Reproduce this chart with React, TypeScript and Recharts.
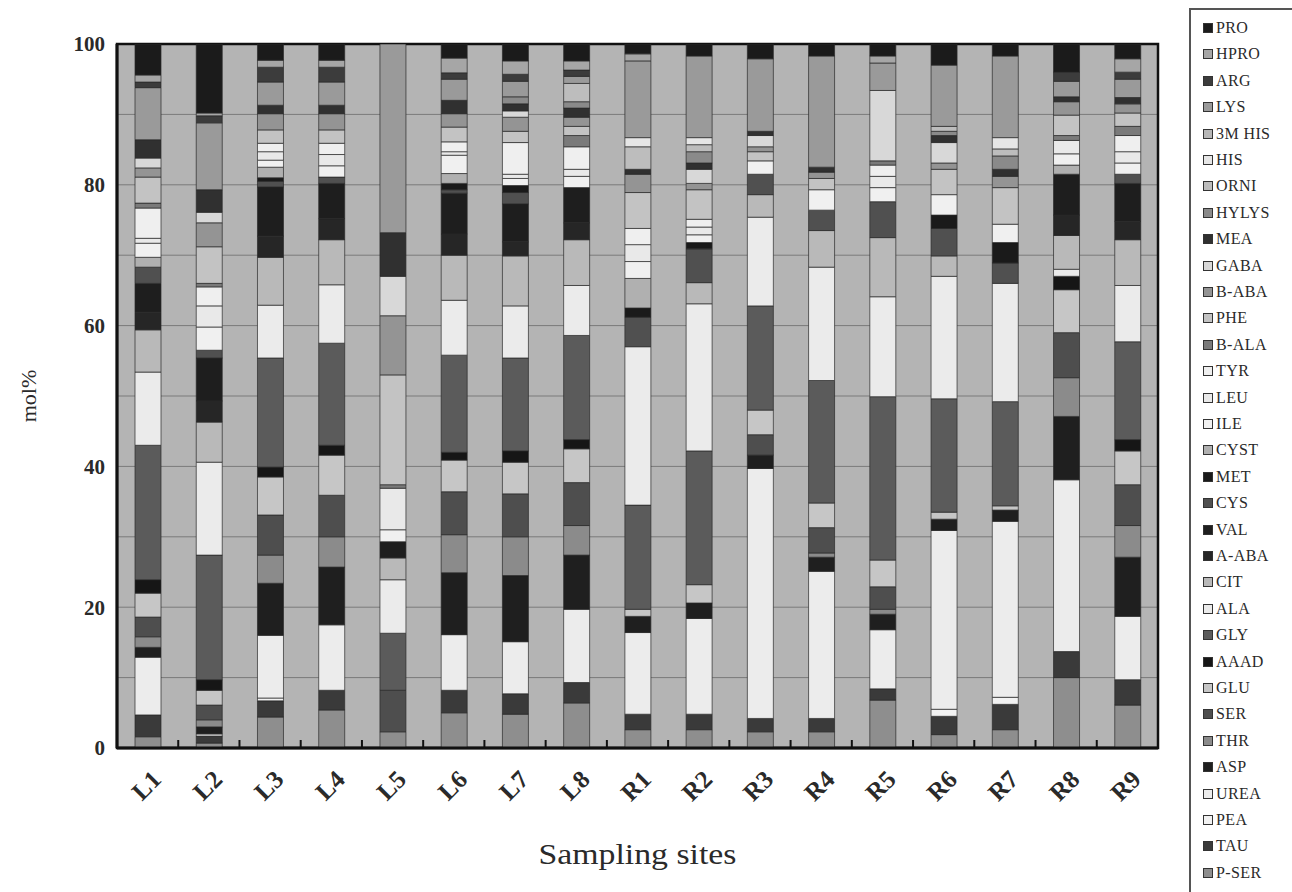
import React from 'react';
import { BarChart, Bar, XAxis, YAxis, CartesianGrid, ReferenceArea } from 'recharts';

const sites = ['L1', 'L2', 'L3', 'L4', 'L5', 'L6', 'L7', 'L8', 'R1', 'R2', 'R3', 'R4', 'R5', 'R6', 'R7', 'R8', 'R9'];

// mol% per sampling site, one array per compound (bottom of the stack first)
const pSer = [1.6, 0.7, 4.4, 5.4, 2.3, 5.0, 4.8, 6.4, 2.6, 2.6, 2.3, 2.3, 6.8, 1.9, 2.6, 10.0, 6.1];
const tau = [3.1, 1.0, 2.3, 2.8, 0, 3.2, 2.9, 2.9, 2.2, 2.2, 1.9, 1.9, 1.6, 2.6, 3.6, 3.7, 3.6];
const pea = [0, 0.3, 0.4, 0, 0, 0, 0, 0, 0, 0, 0, 0, 0, 1.0, 1.0, 0, 0];
const urea = [8.2, 0, 8.9, 9.3, 0, 7.9, 7.4, 10.4, 11.6, 13.6, 35.5, 20.9, 8.4, 25.4, 25.0, 24.4, 9.0];
const asp = [1.4, 1.0, 7.4, 8.2, 0, 8.8, 9.4, 7.7, 2.3, 2.2, 1.9, 2.0, 2.2, 1.6, 1.6, 9.0, 8.4];
const thr = [1.5, 1.0, 4.0, 4.3, 0, 5.4, 5.5, 4.2, 0, 0, 0, 0.6, 0.7, 0, 0, 5.5, 4.5];
const ser = [2.8, 2.1, 5.7, 5.9, 5.9, 6.1, 6.1, 6.1, 0, 0, 2.9, 3.6, 3.2, 0, 0, 6.4, 5.8];
const glu = [3.4, 2.1, 5.4, 5.7, 0, 4.5, 4.5, 4.8, 1.0, 2.6, 3.5, 3.5, 3.8, 1.0, 0.6, 6.1, 4.8];
const aaad = [1.9, 1.5, 1.4, 1.4, 0, 1.1, 1.6, 1.3, 0, 0, 0, 0, 0, 0, 0, 1.9, 1.6];
const gly = [19.1, 17.7, 15.5, 14.5, 8.1, 13.8, 13.2, 14.8, 14.8, 19.0, 14.8, 17.4, 23.2, 16.1, 14.8, 0, 13.9];
const ala = [10.4, 13.2, 7.5, 8.3, 7.6, 7.8, 7.4, 7.1, 22.5, 20.9, 12.6, 16.1, 14.2, 17.4, 16.8, 1.0, 8.0];
const cit = [6.0, 5.7, 6.8, 6.4, 3.1, 6.4, 7.1, 6.5, 0, 3.0, 3.2, 5.2, 8.4, 2.9, 0, 4.8, 6.5];
const aAba = [2.5, 3.0, 3.0, 3.0, 0, 3.0, 2.0, 2.4, 0, 0, 0, 0, 0, 0, 0, 2.9, 2.6];
const val = [4.1, 6.1, 7.0, 5.0, 2.3, 5.8, 5.4, 5.0, 0, 0, 0, 0, 0, 0, 0, 5.8, 5.4];
const cys = [2.3, 1.1, 0.8, 0.9, 0, 0.5, 1.6, 0, 4.2, 4.8, 2.9, 2.9, 5.1, 3.9, 2.9, 0, 1.3];
const met = [0, 0, 0.5, 0, 0, 0.9, 1.0, 0, 1.3, 0.9, 0, 0, 0, 1.9, 2.9, 0, 0];
const cyst = [1.4, 0, 1.5, 0, 0, 1.4, 0, 0, 4.2, 0, 0, 0, 0, 0, 0, 1.3, 0];
const ile = [2.0, 3.3, 1.0, 1.6, 1.7, 2.6, 1.0, 1.6, 2.4, 1.1, 1.9, 2.9, 2.0, 2.9, 2.6, 1.6, 1.6];
const leu = [0.7, 3.0, 1.2, 1.6, 5.9, 0.5, 0.6, 1.0, 2.4, 1.1, 0, 0, 1.6, 0, 0, 1.9, 1.6];
const tyr = [4.3, 2.7, 1.2, 1.6, 0, 1.4, 4.5, 3.2, 2.3, 1.1, 0, 0, 1.6, 0, 0, 0, 2.3];
const bAla = [0.7, 0.5, 0, 0, 0.5, 0, 0, 1.6, 0, 0, 0, 0, 0.6, 0, 0, 0.7, 1.3];
const phe = [3.7, 5.2, 1.9, 1.9, 15.6, 2.1, 1.6, 1.3, 5.1, 4.2, 1.3, 1.6, 0, 3.6, 5.2, 2.9, 1.9];
const bAba = [1.3, 3.4, 2.3, 2.3, 8.4, 1.9, 2.0, 1.3, 2.6, 0.9, 0.7, 0.9, 0, 0.9, 1.6, 1.9, 1.3];
const gaba = [1.4, 1.5, 0, 0, 5.6, 0, 0.9, 0, 0, 2.0, 1.6, 0, 10.0, 2.9, 0, 0, 0];
const mea = [2.6, 3.2, 1.2, 1.2, 6.2, 1.9, 1.0, 1.3, 0.7, 0.9, 0.6, 0.7, 0, 1.0, 1.0, 0.7, 0.9];
const hylys = [0, 0, 0, 0, 0, 0, 1.0, 0.9, 0, 1.6, 0, 0, 0, 0.6, 1.9, 0, 0];
const orni = [0, 0, 0, 0, 0, 0, 0, 2.6, 3.2, 1.0, 0, 0, 0, 0.7, 1.0, 0, 0];
const his = [0, 0, 0, 0, 0, 0, 0, 0, 1.3, 1.0, 0, 0, 0, 0, 1.6, 0, 0];
const mHis = [0, 0, 0, 0, 0, 0, 0, 0, 0, 0, 0, 0, 0, 0, 0, 0, 0];
const lys = [7.4, 9.5, 3.3, 3.3, 26.8, 3.0, 2.2, 1.0, 10.9, 11.6, 10.3, 15.8, 3.9, 8.7, 11.6, 2.2, 2.6];
const arg = [0.8, 1.0, 2.1, 2.1, 0, 0.9, 1.0, 0.9, 0, 0, 0, 0, 0, 0, 0, 1.3, 1.0];
const hpro = [1.0, 0.4, 1.0, 1.0, 0, 2.1, 1.9, 1.3, 1.0, 0, 0, 0, 1.0, 0, 0, 0, 1.9];
const pro = [4.4, 9.8, 2.3, 2.3, 0, 2.0, 2.4, 2.4, 1.4, 1.7, 2.1, 1.7, 1.7, 3.0, 1.7, 4.0, 2.1];

const yTicks = [0, 20, 40, 60, 80, 100];
const gridLines = [10, 20, 30, 40, 50, 60, 70, 80, 90];

const series = [
  { key: 'pSer', name: 'P-SER', values: pSer, fill: '#8e8e8e' },
  { key: 'tau', name: 'TAU', values: tau, fill: '#3a3a3a' },
  { key: 'pea', name: 'PEA', values: pea, fill: '#f2f2f2' },
  { key: 'urea', name: 'UREA', values: urea, fill: '#ececec' },
  { key: 'asp', name: 'ASP', values: asp, fill: '#1f1f1f' },
  { key: 'thr', name: 'THR', values: thr, fill: '#8b8b8b' },
  { key: 'ser', name: 'SER', values: ser, fill: '#4e4e4e' },
  { key: 'glu', name: 'GLU', values: glu, fill: '#c6c6c6' },
  { key: 'aaad', name: 'AAAD', values: aaad, fill: '#161616' },
  { key: 'gly', name: 'GLY', values: gly, fill: '#5b5b5b' },
  { key: 'ala', name: 'ALA', values: ala, fill: '#ebebeb' },
  { key: 'cit', name: 'CIT', values: cit, fill: '#b9b9b9' },
  { key: 'aAba', name: 'A-ABA', values: aAba, fill: '#262626' },
  { key: 'val', name: 'VAL', values: val, fill: '#1e1e1e' },
  { key: 'cys', name: 'CYS', values: cys, fill: '#505050' },
  { key: 'met', name: 'MET', values: met, fill: '#1a1a1a' },
  { key: 'cyst', name: 'CYST', values: cyst, fill: '#b0b0b0' },
  { key: 'ile', name: 'ILE', values: ile, fill: '#f0f0f0' },
  { key: 'leu', name: 'LEU', values: leu, fill: '#e9e9e9' },
  { key: 'tyr', name: 'TYR', values: tyr, fill: '#efefef' },
  { key: 'bAla', name: 'B-ALA', values: bAla, fill: '#7a7a7a' },
  { key: 'phe', name: 'PHE', values: phe, fill: '#c3c3c3' },
  { key: 'bAba', name: 'B-ABA', values: bAba, fill: '#949494' },
  { key: 'gaba', name: 'GABA', values: gaba, fill: '#d8d8d8' },
  { key: 'mea', name: 'MEA', values: mea, fill: '#303030' },
  { key: 'hylys', name: 'HYLYS', values: hylys, fill: '#8a8a8a' },
  { key: 'orni', name: 'ORNI', values: orni, fill: '#bdbdbd' },
  { key: 'his', name: 'HIS', values: his, fill: '#e6e6e6' },
  { key: 'mHis', name: '3M HIS', values: mHis, fill: '#b6b6b6' },
  { key: 'lys', name: 'LYS', values: lys, fill: '#9a9a9a' },
  { key: 'arg', name: 'ARG', values: arg, fill: '#3c3c3c' },
  { key: 'hpro', name: 'HPRO', values: hpro, fill: '#a6a6a6' },
  { key: 'pro', name: 'PRO', values: pro, fill: '#1b1b1b' },
];

const chartData = sites.map((site, i) => {
  const row: Record<string, string | number> = { site };
  series.forEach(s => {
    row[s.key] = s.values[i];
  });
  return row;
});

const SERIF = "'Liberation Serif', 'Times New Roman', serif";
const PLOT_LEFT = 117;
const PLOT_TOP = 44;
const PLOT_RIGHT = 1158;
const PLOT_BOTTOM = 748;
const STEP = (PLOT_RIGHT - PLOT_LEFT) / sites.length;

const SiteTick = (props: any) => {
  const { x, y, payload, index } = props;
  const ax = x + 15;
  const ay = y + 33;
  return (
    <g>
      {index < sites.length - 1 && (
        <line x1={x + STEP / 2} y1={y} x2={x + STEP / 2} y2={y - 8} stroke="#111" strokeWidth={2} />
      )}
      <text
        x={ax}
        y={ay}
        transform={`rotate(-45 ${ax} ${ay})`}
        textAnchor="end"
        fontSize={25}
        fontWeight="bold"
        fontFamily={SERIF}
        fill="#2a2a2a"
      >
        {payload.value}
      </text>
    </g>
  );
};

const xTitle = (props: any) => {
  const { viewBox } = props;
  return (
    <text
      x={viewBox.x + viewBox.width / 2}
      y={viewBox.y + 116}
      textAnchor="middle"
      fontSize={29}
      textLength={198}
      lengthAdjust="spacingAndGlyphs"
      fontFamily={SERIF}
      fill="#2a2a2a"
    >
      Sampling sites
    </text>
  );
};

const yTitle = (props: any) => {
  const { viewBox } = props;
  const cx = 36;
  const cy = viewBox.y + viewBox.height / 2;
  return (
    <text
      x={cx}
      y={cy}
      transform={`rotate(-90 ${cx} ${cy})`}
      textAnchor="middle"
      fontSize={22}
      fontFamily={SERIF}
      fill="#2a2a2a"
    >
      mol%
    </text>
  );
};

const LegendBox = () => (
  <div
    style={{
      position: 'absolute',
      left: 1189,
      top: 8,
      width: 120,
      height: 900,
      border: '2px solid #555',
      background: '#fff',
      fontFamily: SERIF,
    }}
  >
    {[...series].reverse().map((s, i) => (
      <div
        key={s.key}
        style={{
          position: 'absolute',
          left: 12,
          top: 9 + i * 26.4,
          height: 18,
          display: 'flex',
          alignItems: 'center',
          whiteSpace: 'nowrap',
        }}
      >
        <span
          style={{
            display: 'inline-block',
            width: 8,
            height: 8,
            background: s.fill,
            border: '1px solid #333',
            marginRight: 3,
          }}
        />
        <span style={{ fontSize: 16, color: '#2a2a2a', letterSpacing: 0.4 }}>{s.name}</span>
      </div>
    ))}
  </div>
);

export default function App() {
  return (
    <div style={{ position: 'absolute', left: 0, top: 0, width: 1292, height: 892, background: '#fff', overflow: 'hidden' }}>
      <BarChart
        width={1292}
        height={892}
        data={chartData}
        margin={{ top: PLOT_TOP, right: 1292 - PLOT_RIGHT, bottom: 0, left: 0 }}
        barSize={26}
      >
        <CartesianGrid vertical={false} horizontalValues={gridLines} stroke="#7a7a7a" fill="#b4b4b4" />
        <XAxis
          dataKey="site"
          interval={0}
          height={892 - PLOT_BOTTOM}
          tickLine={false}
          tickSize={0}
          tickMargin={0}
          axisLine={{ stroke: '#111', strokeWidth: 3 }}
          tick={<SiteTick />}
          label={{ content: xTitle }}
        />
        <YAxis
          width={PLOT_LEFT}
          domain={[0, 100]}
          ticks={yTicks}
          allowDataOverflow
          tickLine={false}
          tickMargin={6}
          axisLine={{ stroke: '#111', strokeWidth: 3 }}
          tick={{ fontSize: 21, fontWeight: 'bold', fontFamily: SERIF, fill: '#2a2a2a' }}
          label={{ content: yTitle }}
        />
        {series.map(s => (
          <Bar
            key={s.key}
            dataKey={s.key}
            name={s.name}
            stackId="mol"
            fill={s.fill}
            stroke="#2a2a2a"
            strokeWidth={0.7}
            isAnimationActive={false}
          />
        ))}
        <ReferenceArea y1={0} y2={100} fill="none" stroke="#111" strokeWidth={2.5} ifOverflow="visible" />
      </BarChart>
      <LegendBox />
    </div>
  );
}
